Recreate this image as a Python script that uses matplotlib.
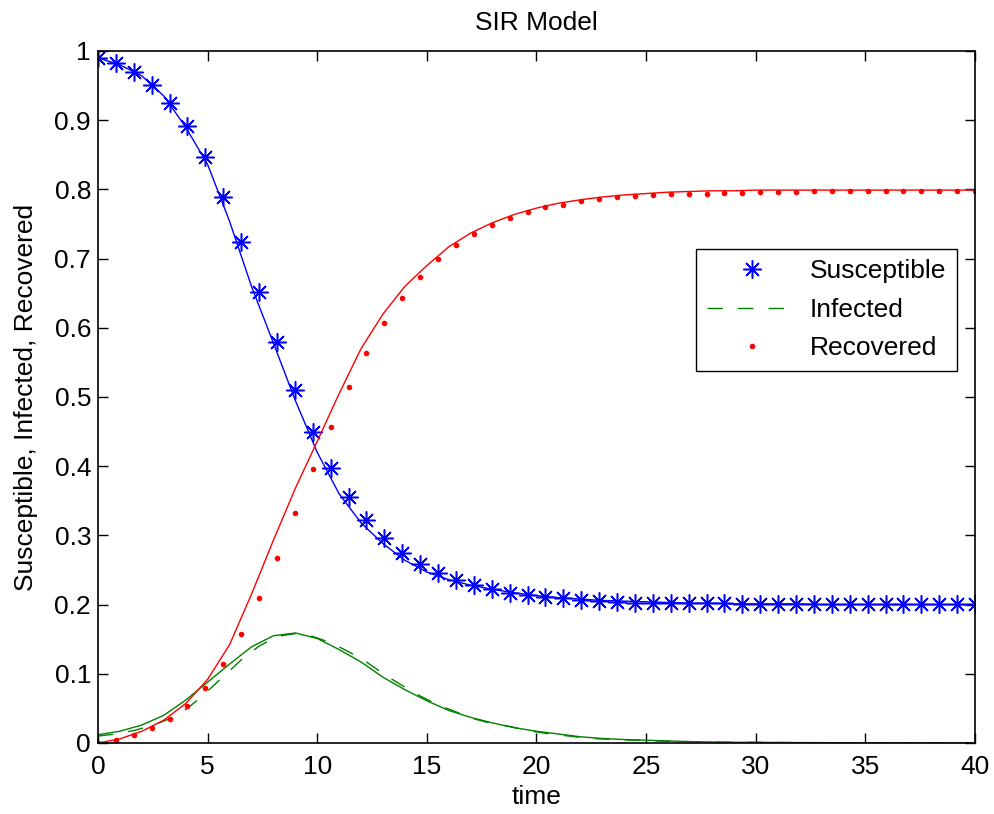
import numpy as np
import matplotlib
matplotlib.use("Agg")
import matplotlib.pyplot as plt

plt.rcParams['font.family'] = ['Liberation Sans', 'DejaVu Sans']

# sampled data (50 points, 0..40)
t_data = np.linspace(0, 40, 50)
susceptible = [0.990, 0.982, 0.969, 0.951, 0.925, 0.891, 0.847, 0.789, 0.724, 0.652,
               0.579, 0.510, 0.449, 0.397, 0.355, 0.322, 0.296, 0.275, 0.258, 0.246,
               0.236, 0.228, 0.222, 0.217, 0.214, 0.211, 0.209, 0.207, 0.205, 0.204,
               0.203, 0.203, 0.202, 0.202, 0.202, 0.202, 0.201, 0.201, 0.201, 0.201,
               0.201, 0.201, 0.201, 0.201, 0.201, 0.201, 0.201, 0.201, 0.201, 0.201]
infected = [0.010, 0.013, 0.018, 0.025, 0.035, 0.050, 0.072, 0.096, 0.120, 0.140,
            0.154, 0.158, 0.154, 0.145, 0.132, 0.117, 0.099, 0.083, 0.068, 0.055,
            0.045, 0.035, 0.028, 0.024, 0.018, 0.014, 0.011, 0.008, 0.006, 0.005,
            0.004, 0.003, 0.0025, 0.002, 0.0015, 0.001, 0.001, 0.0008, 0.0006, 0.0005,
            0.0004, 0.0003, 0.0003, 0.0002, 0.0002, 0.0001, 0.0001, 0.0001, 0.0001, 0.0001]
recovered = [0.000, 0.005, 0.011, 0.021, 0.034, 0.053, 0.079, 0.114, 0.157, 0.209,
             0.268, 0.332, 0.396, 0.457, 0.514, 0.563, 0.607, 0.643, 0.674, 0.699,
             0.719, 0.735, 0.749, 0.759, 0.767, 0.774, 0.778, 0.783, 0.786, 0.789,
             0.791, 0.792, 0.793, 0.794, 0.794, 0.795, 0.795, 0.796, 0.796, 0.796,
             0.797, 0.797, 0.797, 0.797, 0.798, 0.798, 0.798, 0.798, 0.798, 0.798]

# model curves (solid lines)
t_fit = np.arange(41)
s_fit = [0.990, 0.980, 0.964, 0.935, 0.890, 0.836, 0.754, 0.660, 0.578, 0.495,
         0.420, 0.360, 0.318, 0.288, 0.264, 0.247, 0.236, 0.228, 0.222, 0.217,
         0.213, 0.210, 0.208, 0.206, 0.205, 0.204, 0.203, 0.202, 0.202, 0.201,
         0.201, 0.201, 0.201, 0.200, 0.200, 0.200, 0.200, 0.200, 0.200, 0.200, 0.200]
i_fit = [0.012, 0.017, 0.026, 0.040, 0.062, 0.088, 0.114, 0.139, 0.155, 0.159,
         0.151, 0.135, 0.117, 0.095, 0.077, 0.061, 0.047, 0.037, 0.029, 0.022,
         0.017, 0.013, 0.009, 0.0065, 0.005, 0.004, 0.003, 0.002, 0.0015, 0.001,
         0.001, 0.0008, 0.0006, 0.0005, 0.0004, 0.0003, 0.0003, 0.0002, 0.0002, 0.0001, 0.0001]
r_fit = [0.000, 0.006, 0.017, 0.033, 0.057, 0.092, 0.142, 0.215, 0.293, 0.368,
         0.436, 0.505, 0.570, 0.620, 0.660, 0.690, 0.717, 0.737, 0.752, 0.764,
         0.773, 0.780, 0.785, 0.789, 0.792, 0.794, 0.796, 0.797, 0.798, 0.798,
         0.799, 0.799, 0.799, 0.799, 0.799, 0.799, 0.799, 0.799, 0.799, 0.799, 0.799]

blue = (0, 0, 1)
green = (0, 0.5, 0)
red = (1, 0, 0)
fs = 19

fig = plt.figure(figsize=(9.95, 8.14), dpi=100)
ax = fig.add_axes([98 / 995, 71 / 814, 877 / 995, 692 / 814])

ax.plot(t_data, susceptible, linestyle='none', marker=(8, 2, 0), markersize=13,
        markeredgewidth=1.1, color=blue, label='Susceptible')
ax.plot(t_data, infected, linestyle=(0, (11, 11)), linewidth=1.0, color=green,
        label='Infected')
ax.plot(t_data, recovered, linestyle='none', marker='o', markersize=4,
        markeredgewidth=0, color=red, label='Recovered')

ax.plot(t_fit, s_fit, '-', color=blue, linewidth=1.0)
ax.plot(t_fit, i_fit, '-', color=green, linewidth=1.0)
ax.plot(t_fit, r_fit, '-', color=red, linewidth=1.0)

ax.set_xlim(0, 40)
ax.set_ylim(0, 1)
ax.set_xticks(range(0, 41, 5))
ax.set_yticks(np.arange(0, 1.01, 0.1))
ax.set_yticklabels(['0', '0.1', '0.2', '0.3', '0.4', '0.5', '0.6', '0.7', '0.8', '0.9', '1'])
ax.tick_params(direction='in', length=7, width=1, top=True, right=True,
               labelsize=fs, pad=5)
ax.tick_params(axis='x', pad=9)
for sp in ax.spines.values():
    sp.set_linewidth(1.2)

ax.set_title('SIR Model', fontsize=fs, pad=15)
ax.set_xlabel('time', fontsize=fs, labelpad=4)
ax.set_ylabel('Susceptible, Infected, Recovered', fontsize=fs, labelpad=12)

leg = ax.legend(loc='upper right', bbox_to_anchor=(0.979, 0.714), fontsize=fs,
                frameon=True, fancybox=False, edgecolor='black', framealpha=1,
                borderaxespad=0, handlelength=3.4, handletextpad=0.5,
                labelspacing=0.55, borderpad=0.4)
leg.get_frame().set_linewidth(1.0)

fig.savefig('out.png', dpi=100)
